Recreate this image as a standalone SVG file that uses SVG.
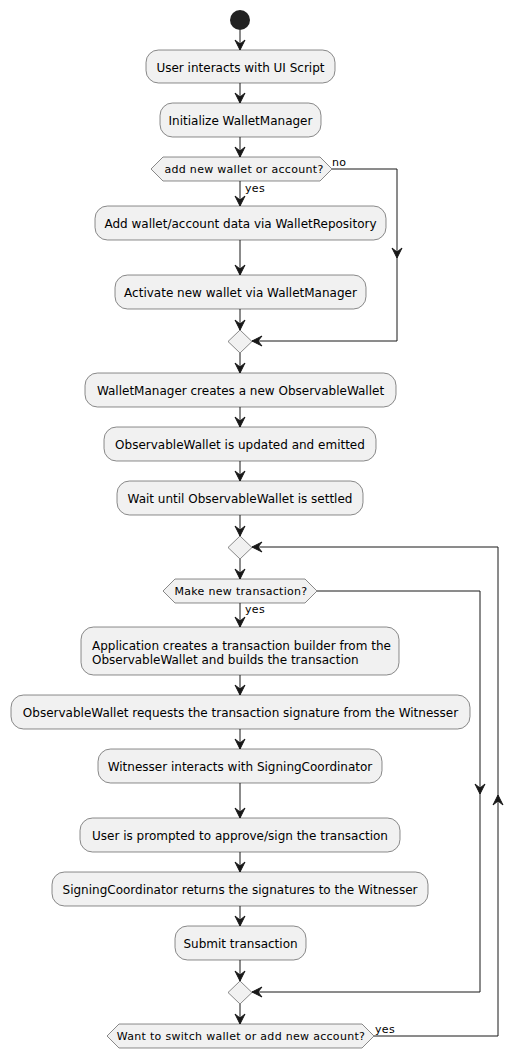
<svg xmlns="http://www.w3.org/2000/svg" width="523" height="1059" viewBox="0 0 523 1059">
<style>
.box{fill:#F1F1F1;stroke:#181818;stroke-width:0.5}
.t{font-family:"DejaVu Sans",sans-serif;font-size:12px;fill:#000;text-anchor:middle}
.tl{font-family:"DejaVu Sans",sans-serif;font-size:12px;fill:#000}
.d{font-family:"DejaVu Sans",sans-serif;font-size:11px;fill:#000;text-anchor:middle;letter-spacing:0.3px}
.lab{font-family:"DejaVu Sans",sans-serif;font-size:11px;fill:#000;letter-spacing:0.3px}
.c{fill:none;stroke:#181818;stroke-width:1;marker-end:url(#ah)}
</style>
<defs>
<marker id="ah" markerUnits="userSpaceOnUse" markerWidth="12" markerHeight="12" refX="10" refY="5" orient="auto" viewBox="0 0 12 10" overflow="visible">
<path d="M0,0 L10,5 L0,10 L4,5 Z" fill="#181818" stroke="#181818" stroke-width="1" stroke-linejoin="miter"/>
</marker>
</defs>
<rect width="523" height="1059" fill="#FFFFFF"/>
<g id="connectors">
<path class="c" d="M240,30 V50"/>
<path class="c" d="M240,83 V103"/>
<path class="c" d="M240,137 V157"/>
<path class="c" d="M240,181 V206"/>
<path class="c" d="M240,240 V275"/>
<path class="c" d="M240,309 V330"/>
<path class="c" d="M332,169 H397 V258"/>
<path class="c" d="M397,258 V341 H252"/>
<path class="c" d="M240,353 V373"/>
<path class="c" d="M240,407 V427"/>
<path class="c" d="M240,461 V481"/>
<path class="c" d="M240,515 V536"/>
<path class="c" d="M240,559 V579"/>
<path class="c" d="M240,603 V627"/>
<path class="c" d="M240,675 V695"/>
<path class="c" d="M240,729 V749"/>
<path class="c" d="M240,783 V818"/>
<path class="c" d="M240,852 V872"/>
<path class="c" d="M240,906 V926"/>
<path class="c" d="M240,960 V981"/>
<path class="c" d="M240,1004 V1024"/>
<path class="c" d="M317,591 H480 V794"/>
<path class="c" d="M480,794 V992 H252"/>
<path class="c" d="M374,1036 H498 V795"/>
<path class="c" d="M498,795 V547 H252"/>
<text class="lab" x="332" y="166">no</text>
<text class="lab" x="245" y="192">yes</text>
<text class="lab" x="245" y="613">yes</text>
<text class="lab" x="375" y="1033">yes</text>
</g>
<g id="start"><circle cx="240" cy="20" r="10" fill="#222222"/></g>
<g id="n1"><rect class="box" x="146" y="50" width="189" height="33" rx="12.5"/><text class="t" x="240.5" y="71.5">User interacts with UI Script</text></g>
<g id="n2"><rect class="box" x="160" y="103" width="161" height="34" rx="12.5"/><text class="t" x="240.5" y="125">Initialize WalletManager</text></g>
<g id="d1"><polygon class="box" points="151,169 163,157 320,157 332,169 320,181 163,181"/><text class="d" x="244" y="173">add new wallet or account?</text></g>
<g id="n3"><rect class="box" x="95" y="206" width="291" height="34" rx="12.5"/><text class="t" x="240.5" y="228">Add wallet/account data via WalletRepository</text></g>
<g id="n4"><rect class="box" x="115" y="275" width="251" height="34" rx="12.5"/><text class="t" x="240.5" y="297">Activate new wallet via WalletManager</text></g>
<g id="m1"><polygon class="box" points="240,330 252,341.5 240,353 228,341.5"/></g>
<g id="n5"><rect class="box" x="85" y="373" width="311" height="34" rx="12.5"/><text class="t" x="240.5" y="395">WalletManager creates a new ObservableWallet</text></g>
<g id="n6"><rect class="box" x="104" y="427" width="272" height="34" rx="12.5"/><text class="t" x="240" y="449">ObservableWallet is updated and emitted</text></g>
<g id="n7"><rect class="box" x="117" y="481" width="246" height="34" rx="12.5"/><text class="t" x="240" y="503">Wait until ObservableWallet is settled</text></g>
<g id="m2"><polygon class="box" points="240,536 252,547.5 240,559 228,547.5"/></g>
<g id="d2"><polygon class="box" points="163,591 175,579 305,579 317,591 305,603 175,603"/><text class="d" x="241" y="595">Make new transaction?</text></g>
<g id="n8"><rect class="box" x="81" y="627" width="318" height="48" rx="12.5"/><text class="tl" x="92" y="649.5">Application creates a transaction builder from the</text><text class="tl" x="92" y="663.5">ObservableWallet and builds the transaction</text></g>
<g id="n9"><rect class="box" x="11" y="695" width="459" height="34" rx="12.5"/><text class="t" x="240.5" y="717">ObservableWallet requests the transaction signature from the Witnesser</text></g>
<g id="n10"><rect class="box" x="98" y="749" width="284" height="34" rx="12.5"/><text class="t" x="240" y="771">Witnesser interacts with SigningCoordinator</text></g>
<g id="n11"><rect class="box" x="80" y="818" width="320" height="34" rx="12.5"/><text class="t" x="240" y="840">User is prompted to approve/sign the transaction</text></g>
<g id="n12"><rect class="box" x="52" y="872" width="376" height="34" rx="12.5"/><text class="t" x="240" y="894">SigningCoordinator returns the signatures to the Witnesser</text></g>
<g id="n13"><rect class="box" x="175" y="926" width="131" height="34" rx="12.5"/><text class="t" x="240.5" y="948">Submit transaction</text></g>
<g id="m3"><polygon class="box" points="240,981 252,992.5 240,1004 228,992.5"/></g>
<g id="d3"><polygon class="box" points="107,1036 119,1024 362,1024 374,1036 362,1048 119,1048"/><text class="d" x="241" y="1040">Want to switch wallet or add new account?</text></g>
</svg>
